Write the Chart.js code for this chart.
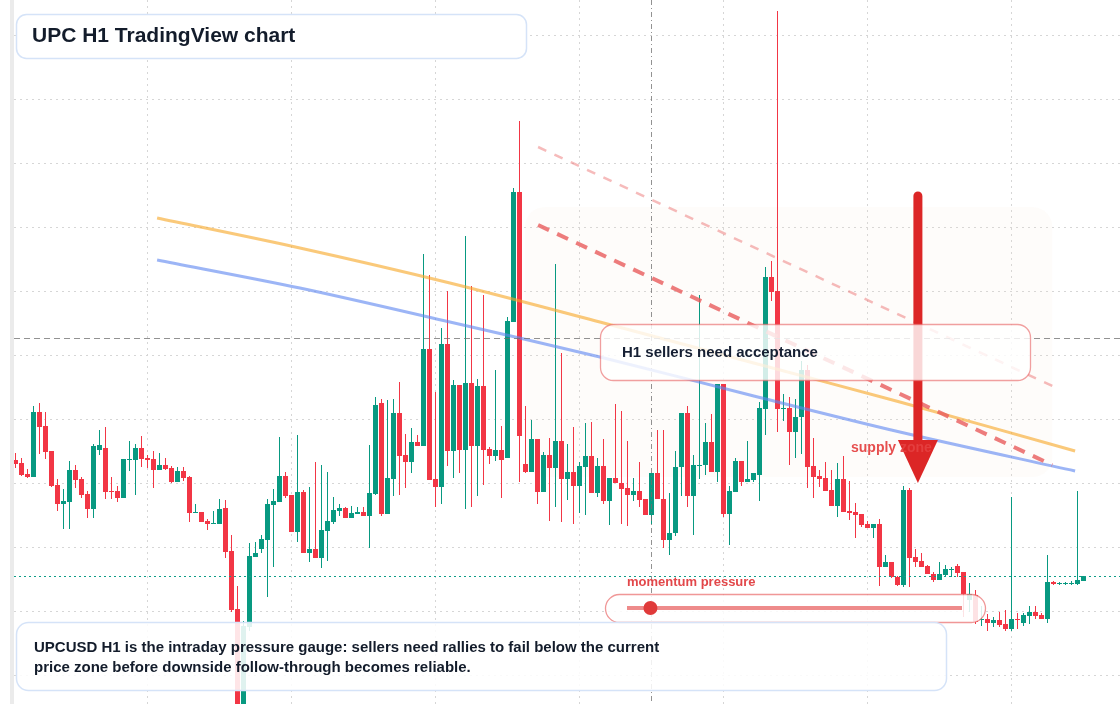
<!DOCTYPE html>
<html>
<head>
<meta charset="utf-8">
<title>UPC H1 TradingView chart</title>
<script src="https://cdn.jsdelivr.net/npm/chart.js@4.4.1/dist/chart.umd.min.js"></script>
<style>
  html, body { margin: 0; padding: 0; background: #fff; }
  #wrap { position: relative; width: 1120px; height: 704px; }
</style>
</head>
<body>
<div id="wrap"><canvas id="chart" width="1120" height="704"></canvas></div>
<script>
// UPCUSD H1 candles (index 0 = oldest bar)
const opens = [
  0.0540, 0.0537, 0.0526, 0.0523, 0.0588, 0.0574, 0.0549, 0.0515, 0.0496, 0.0498,
  0.0530, 0.0521, 0.0506, 0.0491, 0.0550, 0.0552, 0.0509, 0.0509, 0.0502, 0.0540,
  0.0540, 0.0552, 0.0542, 0.0541, 0.0530, 0.0535, 0.0532, 0.0518, 0.0529, 0.0523,
  0.0487, 0.0488, 0.0479, 0.0476, 0.0476, 0.0492, 0.0449, 0.0391, 0.0282, 0.0373,
  0.0443, 0.0451, 0.0460, 0.0495, 0.0498, 0.0524, 0.0505, 0.0468, 0.0508, 0.0447,
  0.0451, 0.0442, 0.0469, 0.0478, 0.0489, 0.0492, 0.0482, 0.0486, 0.0488, 0.0484,
  0.0506, 0.0597, 0.0486, 0.0521, 0.0587, 0.0545, 0.0538, 0.0558, 0.0554, 0.0651,
  0.0521, 0.0513, 0.0656, 0.0549, 0.0615, 0.0550, 0.0617, 0.0554, 0.0614, 0.0551,
  0.0544, 0.0550, 0.0542, 0.0678, 0.0808, 0.0536, 0.0528, 0.0561, 0.0508, 0.0545,
  0.0532, 0.0559, 0.0521, 0.0528, 0.0514, 0.0533, 0.0544, 0.0507, 0.0534, 0.0499,
  0.0522, 0.0517, 0.0512, 0.0505, 0.0509, 0.0501, 0.0485, 0.0527, 0.0501, 0.0460,
  0.0467, 0.0533, 0.0587, 0.0504, 0.0534, 0.0535, 0.0558, 0.0528, 0.0616, 0.0486,
  0.0508, 0.0539, 0.0518, 0.0520, 0.0525, 0.0591, 0.0723, 0.0709, 0.0591, 0.0592,
  0.0568, 0.0583, 0.0630, 0.0534, 0.0524, 0.0522, 0.0510, 0.0494, 0.0521, 0.0489,
  0.0488, 0.0486, 0.0476, 0.0472, 0.0476, 0.0433, 0.0438, 0.0423, 0.0415, 0.0510,
  0.0443, 0.0439, 0.0434, 0.0426, 0.0420, 0.0425, 0.0430, 0.0434, 0.0428, 0.0400,
  0.0405, 0.0380, 0.0381, 0.0377, 0.0380, 0.0376, 0.0371, 0.0381, 0.0377, 0.0384,
  0.0388, 0.0385, 0.0381, 0.0418, 0.0416, 0.0416, 0.0416, 0.0416, 0.0419
];
const highs = [
  0.0547, 0.0542, 0.0531, 0.0594, 0.0597, 0.0588, 0.0549, 0.0521, 0.0511, 0.0539,
  0.0535, 0.0523, 0.0509, 0.0556, 0.0570, 0.0573, 0.0523, 0.0514, 0.0541, 0.0559,
  0.0556, 0.0564, 0.0545, 0.0549, 0.0547, 0.0542, 0.0534, 0.0533, 0.0533, 0.0524,
  0.0496, 0.0488, 0.0481, 0.0489, 0.0501, 0.0500, 0.0465, 0.0414, 0.0379, 0.0457,
  0.0458, 0.0465, 0.0501, 0.0511, 0.0563, 0.0528, 0.0505, 0.0565, 0.0510, 0.0513,
  0.0538, 0.0535, 0.0528, 0.0503, 0.0496, 0.0493, 0.0494, 0.0493, 0.0493, 0.0555,
  0.0603, 0.0601, 0.0600, 0.0601, 0.0618, 0.0566, 0.0572, 0.0565, 0.0746, 0.0725,
  0.0608, 0.0672, 0.0709, 0.0620, 0.0615, 0.0764, 0.0714, 0.0621, 0.0705, 0.0553,
  0.0630, 0.0574, 0.0683, 0.0812, 0.0879, 0.0594, 0.0580, 0.0561, 0.0548, 0.0562,
  0.0736, 0.0647, 0.0556, 0.0573, 0.0538, 0.0577, 0.0578, 0.0542, 0.0561, 0.0522,
  0.0596, 0.0589, 0.0559, 0.0522, 0.0538, 0.0501, 0.0527, 0.0570, 0.0570, 0.0507,
  0.0549, 0.0587, 0.0594, 0.0545, 0.0705, 0.0577, 0.0586, 0.0616, 0.0616, 0.0514,
  0.0542, 0.0539, 0.0559, 0.0527, 0.0598, 0.0733, 0.0739, 0.0989, 0.0606, 0.0603,
  0.0601, 0.0639, 0.0635, 0.0562, 0.0530, 0.0538, 0.0530, 0.0537, 0.0544, 0.0519,
  0.0497, 0.0486, 0.0479, 0.0476, 0.0481, 0.0445, 0.0438, 0.0424, 0.0514, 0.0512,
  0.0451, 0.0447, 0.0435, 0.0428, 0.0438, 0.0435, 0.0433, 0.0436, 0.0428, 0.0417,
  0.0410, 0.0394, 0.0386, 0.0383, 0.0388, 0.0390, 0.0503, 0.0387, 0.0387, 0.0394,
  0.0394, 0.0387, 0.0445, 0.0419, 0.0418, 0.0418, 0.0419, 0.0509, 0.0424
];
const lows = [
  0.0532, 0.0524, 0.0522, 0.0523, 0.0546, 0.0541, 0.0513, 0.0489, 0.0471, 0.0471,
  0.0512, 0.0502, 0.0482, 0.0482, 0.0545, 0.0501, 0.0501, 0.0498, 0.0502, 0.0529,
  0.0505, 0.0533, 0.0532, 0.0512, 0.0530, 0.0530, 0.0517, 0.0518, 0.0519, 0.0478,
  0.0487, 0.0478, 0.0470, 0.0476, 0.0476, 0.0442, 0.0388, 0.0275, 0.0278, 0.0369,
  0.0443, 0.0447, 0.0403, 0.0433, 0.0498, 0.0502, 0.0468, 0.0458, 0.0447, 0.0438,
  0.0442, 0.0432, 0.0439, 0.0476, 0.0484, 0.0482, 0.0482, 0.0486, 0.0484, 0.0452,
  0.0505, 0.0484, 0.0486, 0.0504, 0.0505, 0.0512, 0.0527, 0.0554, 0.0554, 0.0520,
  0.0493, 0.0496, 0.0534, 0.0522, 0.0527, 0.0491, 0.0493, 0.0504, 0.0515, 0.0536,
  0.0539, 0.0502, 0.0542, 0.0678, 0.0518, 0.0527, 0.0528, 0.0496, 0.0508, 0.0479,
  0.0493, 0.0478, 0.0500, 0.0476, 0.0487, 0.0485, 0.0507, 0.0503, 0.0496, 0.0475,
  0.0517, 0.0476, 0.0474, 0.0499, 0.0493, 0.0485, 0.0476, 0.0501, 0.0452, 0.0445,
  0.0464, 0.0504, 0.0493, 0.0465, 0.0521, 0.0525, 0.0528, 0.0518, 0.0483, 0.0455,
  0.0508, 0.0514, 0.0518, 0.0518, 0.0499, 0.0565, 0.0699, 0.0568, 0.0579, 0.0535,
  0.0542, 0.0546, 0.0512, 0.0502, 0.0513, 0.0509, 0.0494, 0.0483, 0.0488, 0.0480,
  0.0462, 0.0473, 0.0472, 0.0462, 0.0414, 0.0433, 0.0422, 0.0414, 0.0413, 0.0413,
  0.0433, 0.0433, 0.0426, 0.0418, 0.0420, 0.0423, 0.0423, 0.0423, 0.0383, 0.0388,
  0.0376, 0.0374, 0.0369, 0.0373, 0.0373, 0.0369, 0.0369, 0.0371, 0.0374, 0.0376,
  0.0381, 0.0381, 0.0377, 0.0415, 0.0415, 0.0415, 0.0415, 0.0415, 0.0419
];
const closes = [
  0.0536, 0.0525, 0.0523, 0.0588, 0.0573, 0.0548, 0.0514, 0.0496, 0.0499, 0.0530,
  0.0520, 0.0505, 0.0491, 0.0554, 0.0555, 0.0508, 0.0508, 0.0502, 0.0541, 0.0541,
  0.0552, 0.0541, 0.0540, 0.0530, 0.0535, 0.0531, 0.0518, 0.0529, 0.0522, 0.0487,
  0.0488, 0.0478, 0.0476, 0.0477, 0.0491, 0.0448, 0.0390, 0.0285, 0.0374, 0.0444,
  0.0447, 0.0461, 0.0496, 0.0499, 0.0524, 0.0504, 0.0468, 0.0508, 0.0447, 0.0451,
  0.0442, 0.0470, 0.0479, 0.0490, 0.0492, 0.0482, 0.0487, 0.0488, 0.0484, 0.0507,
  0.0595, 0.0486, 0.0522, 0.0587, 0.0544, 0.0538, 0.0558, 0.0554, 0.0651, 0.0520,
  0.0513, 0.0656, 0.0549, 0.0615, 0.0550, 0.0617, 0.0554, 0.0614, 0.0550, 0.0544,
  0.0550, 0.0540, 0.0679, 0.0808, 0.0564, 0.0528, 0.0561, 0.0508, 0.0545, 0.0532,
  0.0559, 0.0521, 0.0528, 0.0514, 0.0534, 0.0544, 0.0507, 0.0534, 0.0499, 0.0522,
  0.0517, 0.0511, 0.0505, 0.0509, 0.0500, 0.0485, 0.0527, 0.0501, 0.0460, 0.0467,
  0.0533, 0.0587, 0.0504, 0.0535, 0.0535, 0.0558, 0.0528, 0.0616, 0.0486, 0.0509,
  0.0539, 0.0518, 0.0521, 0.0527, 0.0592, 0.0723, 0.0708, 0.0591, 0.0592, 0.0568,
  0.0583, 0.0630, 0.0533, 0.0523, 0.0521, 0.0509, 0.0494, 0.0521, 0.0488, 0.0487,
  0.0485, 0.0475, 0.0472, 0.0476, 0.0433, 0.0438, 0.0423, 0.0415, 0.0510, 0.0442,
  0.0438, 0.0433, 0.0426, 0.0420, 0.0426, 0.0431, 0.0431, 0.0427, 0.0406, 0.0406,
  0.0378, 0.0381, 0.0377, 0.0380, 0.0375, 0.0371, 0.0381, 0.0380, 0.0385, 0.0388,
  0.0384, 0.0381, 0.0418, 0.0416, 0.0417, 0.0417, 0.0417, 0.0420, 0.0424
];

// grid (tick) positions: price levels and bar indexes
const gridPrices = [0.09645, 0.09005, 0.08365, 0.07725, 0.07085, 0.06445, 0.05805, 0.05165, 0.04525, 0.03885, 0.03245];
const gridIndexes = [10, 34, 58, 82, 106, 130, 154, 178];

// moving averages (bar index -> price)
const maX = [23.6, 47.4, 72.4, 97.4, 122.4, 147.4, 176.6];
const maFast = [0.0782, 0.0752, 0.0717, 0.0678, 0.0638, 0.0598, 0.0549];
const maSlow = [0.0740, 0.0712, 0.0678, 0.0643, 0.0605, 0.0568, 0.0529];

// descending dashed trend lines
const trendX = [87.1, 172.8];
const trendUpper = [0.0853, 0.0614];
const trendLower = [0.0775, 0.0535];

// supply zone, arrow, crosshair
const zoneX = [84.9, 172.8];
const zoneY = [0.0793, 0.0523];
const arrowX = 150.4;
const arrowY = [0.0804, 0.0517];
const crossIndex = 106;
const crossPrice = 0.0662;
const momentum = 0.07;

const UP = "#089981";
const DOWN = "#f23645";

const idx = closes.map((c, i) => i);
const colors = idx.map((i) => (closes[i] >= opens[i] ? UP : DOWN));
const lastPrice = closes[closes.length - 1];

function roundRect(ctx, x, y, w, h, r) {
  ctx.beginPath();
  ctx.moveTo(x + r, y);
  ctx.lineTo(x + w - r, y);
  ctx.arcTo(x + w, y, x + w, y + r, r);
  ctx.lineTo(x + w, y + h - r);
  ctx.arcTo(x + w, y + h, x + w - r, y + h, r);
  ctx.lineTo(x + r, y + h);
  ctx.arcTo(x, y + h, x, y + h - r, r);
  ctx.lineTo(x, y + r);
  ctx.arcTo(x, y, x + r, y, r);
  ctx.closePath();
}

const FONT = '"Liberation Sans", Arial, sans-serif';

const overlay = {
  id: "overlay",
  beforeDraw(chart) {
    const ctx = chart.ctx;
    ctx.save();
    ctx.fillStyle = "#ebebeb";
    ctx.fillRect(10, 0, 4, chart.height);
    ctx.restore();
  },
  beforeDatasetsDraw(chart) {
    const { ctx, scales } = chart;
    const x0 = scales.x.getPixelForValue(zoneX[0]);
    const x1 = scales.x.getPixelForValue(zoneX[1]);
    const y0 = scales.y.getPixelForValue(zoneY[0]);
    const y1 = scales.y.getPixelForValue(zoneY[1]);
    ctx.save();
    roundRect(ctx, x0, y0, x1 - x0, y1 - y0, 20);
    ctx.fillStyle = "rgba(248, 226, 208, 0.1)";
    ctx.fill();
    ctx.restore();
  },
  afterDatasetsDraw(chart) {
    const { ctx, scales, chartArea } = chart;
    const xs = scales.x;
    const ys = scales.y;
    ctx.save();

    // last price line
    const py = Math.round(ys.getPixelForValue(lastPrice)) + 0.5;
    ctx.strokeStyle = "#0f9d88";
    ctx.lineWidth = 1.2;
    ctx.setLineDash([2, 3]);
    ctx.beginPath();
    ctx.moveTo(chartArea.left, py);
    ctx.lineTo(chartArea.right, py);
    ctx.stroke();

    // crosshair
    const cy = Math.round(ys.getPixelForValue(crossPrice)) + 0.5;
    const cx = Math.round(xs.getPixelForValue(crossIndex)) + 0.5;
    ctx.strokeStyle = "rgba(110,110,110,0.75)";
    ctx.lineWidth = 1;
    ctx.setLineDash([6, 4]);
    ctx.beginPath();
    ctx.moveTo(chartArea.left, cy);
    ctx.lineTo(chartArea.right, cy);
    ctx.stroke();
    ctx.setLineDash([5, 3, 1, 3]);
    ctx.beginPath();
    ctx.moveTo(cx, chartArea.top);
    ctx.lineTo(cx, chartArea.bottom);
    ctx.stroke();
    ctx.setLineDash([]);

    // red arrow into supply zone
    const ax = xs.getPixelForValue(arrowX);
    const aTop = ys.getPixelForValue(arrowY[0]);
    const aTip = ys.getPixelForValue(arrowY[1]);
    ctx.strokeStyle = "#dc2626";
    ctx.lineWidth = 9;
    ctx.lineCap = "round";
    ctx.beginPath();
    ctx.moveTo(ax, aTop);
    ctx.lineTo(ax, aTip - 40);
    ctx.stroke();
    ctx.fillStyle = "#dc2626";
    ctx.beginPath();
    ctx.moveTo(ax - 20, aTip - 43);
    ctx.lineTo(ax + 20, aTip - 43);
    ctx.lineTo(ax, aTip);
    ctx.closePath();
    ctx.fill();

    ctx.fillStyle = "rgba(228, 64, 64, 0.92)";
    ctx.font = "bold 14px " + FONT;
    ctx.textBaseline = "middle";
    ctx.fillText("supply zone", 851, 448);

    // H1 sellers box
    roundRect(ctx, 600.5, 324.5, 430, 56, 13);
    ctx.fillStyle = "rgba(255,255,255,0.82)";
    ctx.fill();
    ctx.strokeStyle = "rgba(232,96,96,0.6)";
    ctx.lineWidth = 1.3;
    ctx.stroke();
    ctx.fillStyle = "#162033";
    ctx.font = "bold 15px " + FONT;
    ctx.fillText("H1 sellers need acceptance", 622, 353);

    // momentum gauge
    ctx.fillStyle = "#e2474a";
    ctx.font = "bold 13px " + FONT;
    ctx.fillText("momentum pressure", 627, 582);
    roundRect(ctx, 605.5, 594.5, 380, 28, 14);
    ctx.fillStyle = "rgba(255,255,255,0.86)";
    ctx.fill();
    ctx.strokeStyle = "rgba(232,96,96,0.65)";
    ctx.lineWidth = 1.3;
    ctx.stroke();
    ctx.strokeStyle = "rgba(232,100,100,0.75)";
    ctx.lineWidth = 4;
    ctx.lineCap = "butt";
    ctx.beginPath();
    ctx.moveTo(627, 608);
    ctx.lineTo(962, 608);
    ctx.stroke();
    ctx.fillStyle = "#e03a3a";
    ctx.beginPath();
    ctx.arc(627 + momentum * (962 - 627), 608, 7, 0, Math.PI * 2);
    ctx.fill();

    // title box
    roundRect(ctx, 16.5, 14.5, 510, 44, 10);
    ctx.fillStyle = "#ffffff";
    ctx.fill();
    ctx.strokeStyle = "#d5e3f8";
    ctx.lineWidth = 1.5;
    ctx.stroke();
    ctx.fillStyle = "#131c2b";
    ctx.font = "bold 21px " + FONT;
    ctx.fillText("UPC H1 TradingView chart", 32, 36);

    // commentary box
    roundRect(ctx, 16.5, 622.5, 930, 68, 12);
    ctx.fillStyle = "rgba(255,255,255,0.87)";
    ctx.fill();
    ctx.strokeStyle = "#d5e3f8";
    ctx.lineWidth = 1.5;
    ctx.stroke();
    ctx.fillStyle = "#131c2b";
    ctx.font = "bold 15px " + FONT;
    ctx.fillText("UPCUSD H1 is the intraday pressure gauge: sellers need rallies to fail below the current", 34, 648);
    ctx.fillText("price zone before downside follow-through becomes reliable.", 34, 668);

    ctx.restore();
  }
};

new Chart(document.getElementById("chart"), {
  type: "bar",
  data: {
    datasets: [
      {
        label: "wicks",
        data: idx.map((i) => ({ x: i, y: [lows[i], highs[i]] })),
        backgroundColor: colors,
        barThickness: 1,
        grouped: false,
        inflateAmount: 0,
        order: 10
      },
      {
        label: "bodies",
        data: idx.map((i) => ({ x: i, y: [opens[i], closes[i]] })),
        backgroundColor: colors,
        barThickness: 5,
        minBarLength: 1,
        grouped: false,
        inflateAmount: 0,
        order: 9
      },
      {
        type: "line",
        label: "MA fast",
        data: maX.map((x, k) => ({ x, y: maFast[k] })),
        borderColor: "rgba(247,168,40,0.62)",
        borderWidth: 3,
        pointRadius: 0,
        tension: 0.3,
        order: 6
      },
      {
        type: "line",
        label: "MA slow",
        data: maX.map((x, k) => ({ x, y: maSlow[k] })),
        borderColor: "rgba(96,136,240,0.62)",
        borderWidth: 3,
        pointRadius: 0,
        tension: 0.3,
        order: 5
      },
      {
        type: "line",
        label: "upper trend",
        data: trendX.map((x, k) => ({ x, y: trendUpper[k] })),
        borderColor: "rgba(238,120,120,0.5)",
        borderWidth: 2.5,
        borderDash: [9, 9],
        pointRadius: 0,
        order: 4
      },
      {
        type: "line",
        label: "lower trend",
        data: trendX.map((x, k) => ({ x, y: trendLower[k] })),
        borderColor: "rgba(232,92,92,0.8)",
        borderWidth: 4,
        borderDash: [12, 9],
        pointRadius: 0,
        order: 3
      }
    ]
  },
  options: {
    responsive: false,
    animation: false,
    devicePixelRatio: 1,
    layout: { padding: { left: 14, right: 0, top: 0, bottom: 0 } },
    plugins: { legend: { display: false }, tooltip: { enabled: false } },
    scales: {
      x: {
        type: "linear",
        min: -0.25,
        max: -0.25 + 1106 / 6,
        offset: false,
        afterBuildTicks: (scale) => {
          scale.ticks = gridIndexes.map((v) => ({ value: v }));
        },
        ticks: { display: false },
        grid: { color: "#d6d6d6", drawTicks: false },
        border: { display: false, dash: [2, 4] }
      },
      y: {
        min: 0.0296,
        max: 0.1,
        afterBuildTicks: (scale) => {
          scale.ticks = gridPrices.map((v) => ({ value: v }));
        },
        ticks: { display: false },
        grid: { color: "#d6d6d6", drawTicks: false },
        border: { display: false, dash: [2, 4] }
      }
    }
  },
  plugins: [overlay]
});
</script>
</body>
</html>
